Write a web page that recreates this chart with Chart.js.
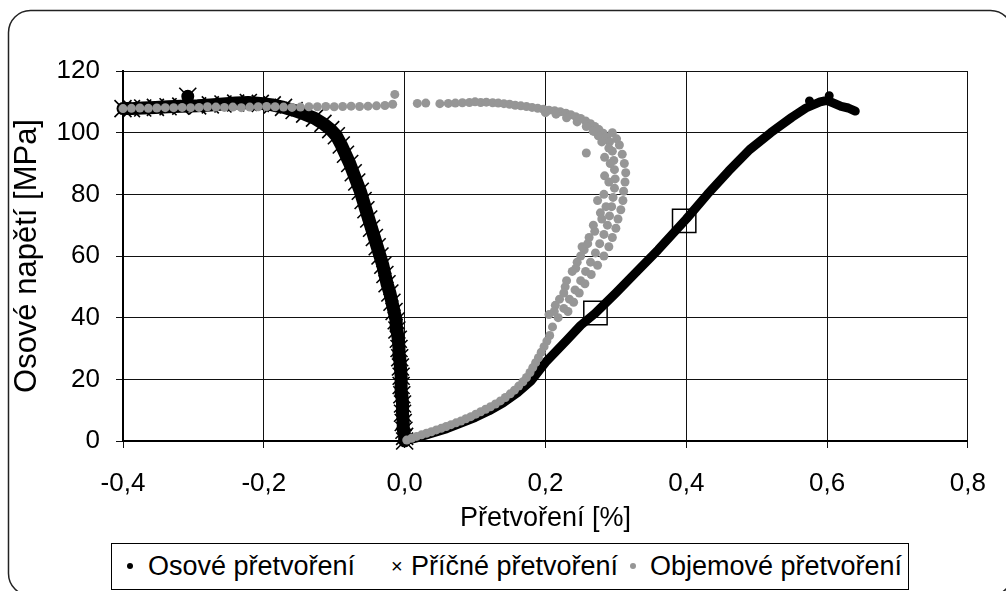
<!DOCTYPE html>
<html lang="cs">
<head>
<meta charset="utf-8">
<title>Osové napětí – přetvoření</title>
<script src="https://cdn.jsdelivr.net/npm/chart.js@4.4.1/dist/chart.umd.min.js"></script>
<style>
  html, body { margin: 0; padding: 0; background: #fff; }
  #wrap { position: relative; width: 1006px; height: 591px; overflow: hidden; }
  #legend {
    position: absolute; left: 111px; top: 543px; width: 798px; height: 47px;
    box-sizing: border-box; border: 1px solid #000; background: #fff;
    font: 27px 'Liberation Sans', Arial, sans-serif; color: #000;
  }
  #legend .it { position: absolute; top: 0; height: 45px; line-height: 45px; white-space: nowrap; }
  #legend .dot { position: absolute; width: 6px; height: 6px; border-radius: 50%; top: 19px; }
  #legend .x { position: absolute; top: 0; font-size: 20px; line-height: 45px; }
</style>
</head>
<body>
<div id="wrap">
  <canvas id="chart" width="1006" height="591"></canvas>
  <div id="legend"></div>
</div>
<script>
// values: strain [%] vs. axial stress [MPa]
const seriesNames = ["Osové přetvoření", "Příčné přetvoření", "Objemové přetvoření"];
const seriesColors = ["#000", "#000", "#969696"];
const xTitle = "Přetvoření [%]";
const yTitle = "Osové napětí [MPa]";
const xRange = { min: -0.4, max: 0.8, step: 0.2 };
const yRange = { min: 0, max: 120, step: 20 };

// axial strain (black dots); null = break in the dense trace
const osove = [
  [0, 0], [0.02, 1.2], [0.04, 2.6], [0.06, 4], [0.08, 5.8], [0.1, 7.6], [0.12, 9.8],
  [0.14, 12.4], [0.16, 15.6], [0.18, 19.6], [0.2, 25.5], [0.23, 32.6], [0.25, 37.5],
  [0.27, 41.3], [0.3, 48], [0.33, 55], [0.36, 62], [0.4, 72], [0.43, 80], [0.46, 87.5],
  [0.49, 94.5], [0.52, 100], [0.55, 105], [0.57, 108], [0.59, 110], [0.6, 110.5],
  [0.61, 109.5], [0.62, 108.5], [0.63, 108], [0.64, 107],
  null, [0.603, 112], null, [0.575, 110.3]
];

// lateral strain (crosses)
const pricne = [
  [0, 0], [0, 1.5], [-0.001, 3.5], [-0.002, 6], [-0.003, 9], [-0.003, 12], [-0.004, 15],
  [-0.005, 18], [-0.005, 21], [-0.006, 24], [-0.007, 27], [-0.008, 30], [-0.009, 33],
  [-0.011, 36], [-0.012, 39], [-0.015, 42], [-0.018, 45], [-0.021, 48], [-0.025, 51],
  [-0.028, 54], [-0.031, 57], [-0.035, 60], [-0.039, 63], [-0.043, 66], [-0.047, 69],
  [-0.051, 72], [-0.055, 75], [-0.059, 78], [-0.063, 81], [-0.068, 84], [-0.073, 87],
  [-0.078, 90], [-0.084, 93], [-0.09, 96], [-0.097, 99], [-0.105, 101], [-0.116, 103],
  [-0.128, 104.7], [-0.142, 106], [-0.157, 107.2], [-0.172, 108.2], [-0.188, 109],
  [-0.205, 109.5], [-0.222, 109.8], [-0.24, 109.6], [-0.258, 109.3], [-0.276, 109],
  [-0.294, 108.7], [-0.318, 108.6], [-0.336, 108.4], [-0.354, 108.2], [-0.372, 108],
  [-0.388, 107.8], [-0.4, 107.8],
  null, [-0.308, 111.8]
];

// volumetric strain (grey dots)
const objemove = [
  // flat part at the peak load
  [-0.4, 107.8], [-0.388, 107.9], [-0.376, 108], [-0.364, 107.9], [-0.352, 108], [-0.34, 108.1],
  [-0.328, 108.1], [-0.316, 108.2], [-0.304, 108.1], [-0.292, 108.2], [-0.28, 108.4], [-0.268, 108.3],
  [-0.256, 108.2], [-0.244, 108.3], [-0.232, 108.1], [-0.22, 108.3], [-0.208, 108.4], [-0.196, 108.5],
  [-0.184, 108.4], [-0.172, 108.3], [-0.16, 108.2], [-0.148, 108.3], [-0.136, 108.4], [-0.124, 108.4],
  [-0.112, 108.5], [-0.1, 108.4], [-0.088, 108.5], [-0.076, 108.6], [-0.064, 108.5], [-0.052, 108.6],
  [-0.04, 108.7], [-0.028, 108.8], [-0.017, 109.2], [-0.014, 112.4],
  // top of the arc
  [0.018, 109.5], [0.03, 109.6], [0.05, 109.4], [0.062, 109.5], [0.072, 109.6], [0.082, 109.7],
  [0.092, 109.8], [0.1, 110], [0.108, 109.8], [0.116, 109.9], [0.125, 109.7], [0.133, 109.6],
  [0.141, 109.4], [0.149, 109.2], [0.157, 108.9], [0.165, 108.7], [0.173, 108.5], [0.181, 108.2],
  [0.189, 107.9], [0.197, 107.6], [0.205, 107.3], [0.213, 107.1], [0.221, 106.8], [0.229, 106.3],
  [0.236, 105.8], [0.243, 105.2], [0.25, 104.6], [0.257, 103.8], [0.264, 102.9], [0.27, 102],
  [0.276, 101], [0.282, 99.8], [0.287, 98.5], [0.291, 97],
  [0.2, 106.5], [0.215, 106], [0.23, 104.8], [0.245, 103.5], [0.258, 102], [0.268, 100.5], [0.275, 99],
  // the bent band between 40 and 100 MPa
  [0.295, 94], [0.297, 91], [0.298, 88], [0.299, 85], [0.298, 82], [0.296, 79], [0.294, 76],
  [0.291, 73], [0.288, 70], [0.283, 67], [0.277, 64], [0.271, 61], [0.264, 58], [0.257, 55],
  [0.25, 52], [0.242, 49], [0.234, 46], [0.226, 43], [0.218, 40],
  [0.232, 42], [0.248, 48], [0.265, 54], [0.283, 60], [0.295, 66], [0.303, 72], [0.31, 78],
  [0.313, 84], [0.312, 90], [0.305, 96], [0.295, 100],
  [0.24, 45], [0.256, 51], [0.274, 57], [0.29, 63], [0.3, 69], [0.307, 75], [0.311, 81],
  [0.314, 87], [0.309, 93], [0.301, 98],
  [0.214, 44], [0.228, 50], [0.243, 56], [0.255, 62], [0.27, 68], [0.278, 74], [0.283, 80],
  [0.284, 86], [0.284, 92], [0.28, 97], [0.268, 100.5],
  [0.2125, 42], [0.226, 48], [0.258, 93.4], [0.25, 60], [0.262, 66], [0.274, 78],
  [0.205, 41], [0.22, 46], [0.23, 52], [0.238, 55], [0.245, 58], [0.252, 63], [0.26, 64],
  [0.268, 70], [0.28, 72], [0.286, 76], [0.29, 84], [0.292, 90], [0.29, 95],
  // lower branch
  [0.21, 37], [0.206, 34.2], [0.202, 32.4], [0.198, 30.6], [0.194, 28.8], [0.19, 27],
  [0.186, 25.4], [0.182, 23.8], [0.178, 22.2], [0.173, 20.6], [0.168, 19.2], [0.162, 17.8],
  [0.156, 16.5], [0.15, 15.3], [0.143, 14.1], [0.136, 13], [0.129, 12], [0.122, 11.1],
  [0.115, 10.3], [0.108, 9.5], [0.101, 8.7], [0.094, 7.9], [0.087, 7.2], [0.08, 6.5],
  [0.073, 5.9], [0.066, 5.3], [0.059, 4.7], [0.052, 4.1], [0.045, 3.6], [0.038, 3],
  [0.031, 2.5], [0.024, 2], [0.017, 1.5], [0.01, 0.9], [0.003, 0.3]
];

// the two framed points on the axial curve
const ramecky = [[0.271, 41.5], [0.397, 71.4]];

const toPoints = arr => arr.map(p => p ? { x: p[0], y: p[1] } : { x: null, y: null });

const FONT = "'Liberation Sans', Arial, sans-serif";
Chart.defaults.font.family = FONT;
Chart.defaults.font.size = 26;
Chart.defaults.color = "#000";

// legend below the plot, drawn as html
const legendPos = [
  { mark: 130, text: 148 },
  { mark: 396, text: 411 },
  { mark: 633, text: 650 }
];
function buildLegend() {
  const el = document.getElementById("legend");
  const box = el.getBoundingClientRect();
  el.innerHTML = seriesNames.map((name, i) => {
    const p = legendPos[i];
    const m = i === 1
      ? `<span class="x" style="left:${p.mark - box.left - 6}px">×</span>`
      : `<span class="dot" style="left:${p.mark - box.left - 4}px;background:${seriesColors[i]}"></span>`;
    return m + `<span class="it" style="left:${p.text - box.left - 1}px">${name}</span>`;
  }).join("");
}

const outerFrame = {
  id: "outerFrame",
  beforeDraw(chart) {
    const ctx = chart.ctx;
    const x = 8.5, y = 10.5, w = 1004, h = 585, r = 22;
    ctx.save();
    ctx.strokeStyle = "#222";
    ctx.lineWidth = 1.5;
    ctx.beginPath();
    ctx.moveTo(x + r, y);
    ctx.arcTo(x + w, y, x + w, y + h, r);
    ctx.arcTo(x + w, y + h, x, y + h, r);
    ctx.arcTo(x, y + h, x, y, r);
    ctx.arcTo(x, y, x + w, y, r);
    ctx.closePath();
    ctx.stroke();
    ctx.restore();
  }
};

new Chart(document.getElementById("chart"), {
  type: "scatter",
  data: {
    datasets: [
      {
        label: seriesNames[0],
        data: toPoints(osove),
        showLine: true,
        spanGaps: false,
        borderColor: seriesColors[0],
        backgroundColor: seriesColors[0],
        borderWidth: 9,
        borderJoinStyle: "round",
        borderCapStyle: "round",
        pointRadius: 3.5,
        pointBorderWidth: 0,
        order: 2,
        clip: 10
      },
      {
        label: seriesNames[1],
        data: toPoints(pricne),
        showLine: true,
        spanGaps: false,
        borderColor: seriesColors[1],
        backgroundColor: seriesColors[1],
        borderWidth: 13,
        borderJoinStyle: "round",
        borderCapStyle: "round",
        pointStyle: "crossRot",
        pointRadius: 12,
        pointBorderWidth: 1.6,
        order: 3,
        clip: 12
      },
      {
        label: seriesNames[2],
        data: toPoints(objemove),
        borderColor: seriesColors[2],
        backgroundColor: seriesColors[2],
        pointRadius: 4.5,
        pointBorderWidth: 0,
        order: 1,
        clip: 10
      },
      {
        label: "ramecky",
        data: toPoints(ramecky),
        pointStyle: "rect",
        pointRadius: 16.5,
        pointBorderWidth: 1.5,
        borderColor: "#000",
        backgroundColor: "rgba(0,0,0,0)",
        order: 0,
        clip: 20
      }
    ]
  },
  options: {
    responsive: false,
    animation: false,
    devicePixelRatio: 1,
    layout: { padding: { top: 71, right: 19, bottom: 50, left: 0 } },
    plugins: {
      tooltip: { enabled: false },
      legend: { display: false }
    },
    scales: {
      x: {
        type: "linear",
        min: xRange.min,
        max: xRange.max,
        afterFit: s => { s.height = 100; },
        ticks: {
          stepSize: xRange.step,
          padding: 20,
          color: "#000",
          font: { size: 26 },
          callback: v => (Math.abs(v) < 1e-9 ? 0 : v).toFixed(1).replace(".", ",")
        },
        grid: { color: "#111", lineWidth: 1, tickLength: 7 },
        border: { color: "#000", width: 2 },
        title: { display: true, text: xTitle, color: "#000", font: { size: 27 }, padding: { top: 0, bottom: 6 } }
      },
      y: {
        type: "linear",
        min: yRange.min,
        max: yRange.max,
        afterFit: s => { s.width = 123; },
        ticks: { stepSize: yRange.step, padding: 16, color: "#000", font: { size: 26 } },
        grid: { color: "#111", lineWidth: 1, tickLength: 7 },
        border: { color: "#000", width: 2 },
        title: { display: true, text: yTitle, color: "#000", font: { size: 31 }, padding: { top: 9, bottom: 0 } }
      }
    }
  },
  plugins: [outerFrame]
});

buildLegend();
</script>
</body>
</html>
